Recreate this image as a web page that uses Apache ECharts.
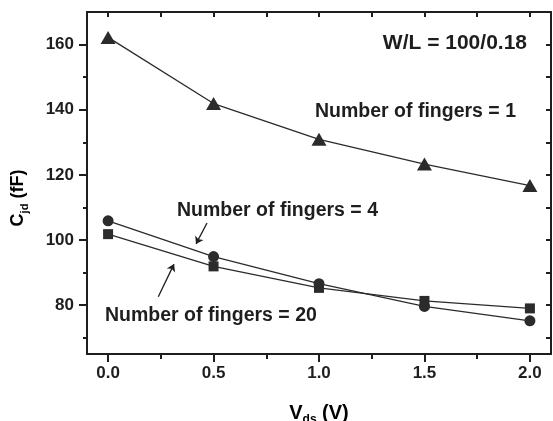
<!DOCTYPE html>
<html>
<head>
<meta charset="utf-8">
<script src="https://cdn.jsdelivr.net/npm/echarts@6/dist/echarts.min.js"></script>
<style>
  html, body { margin: 0; padding: 0; background: #fff; }
  #chart { width: 553px; height: 421px; }
</style>
</head>
<body>
<div id="chart"></div>
<script>
// V_ds sweep points (V)
const vds = [0.0, 0.5, 1.0, 1.5, 2.0];
// C_jd (fF) for each finger count
const fingers1 = [162.2, 141.9, 130.9, 123.3, 116.7];
const fingers4 = [105.9, 94.9, 86.6, 79.6, 75.2];
const fingers20 = [101.8, 91.9, 85.3, 81.3, 79.0];

const xMajor = [0, 0.5, 1.0, 1.5, 2.0];
const xMinor = [0.25, 0.75, 1.25, 1.75];
const xTop = [0, 0.25, 0.5, 0.75, 1.0, 1.25, 1.5, 1.75, 2.0];
const yMajor = [80, 100, 120, 140, 160];
const yMinor = [70, 90, 110, 130, 150];
const yRight = [70, 80, 90, 100, 110, 120, 130, 140, 150, 160];

// arrow annotations, in data coordinates [from, to]
const arrow4 = [[0.469, 105.2], [0.417, 98.8]];
const arrow20 = [[0.238, 82.6], [0.3125, 92.6]];

const FONT = "'Liberation Sans', Arial, sans-serif";
const INK = '#1e1e1e';

const chart = echarts.init(document.getElementById('chart'), null, { renderer: 'canvas' });

function pairs(ys) {
    return vds.map((x, i) => [x, ys[i]]);
}

function xAxisBase(extra) {
    return Object.assign({
        type: 'value', min: -0.1, max: 2.1, gridIndex: 0,
        axisLine: { show: true, onZero: false, lineStyle: { color: INK, width: 2 } },
        splitLine: { show: false },
        axisLabel: { show: false },
    }, extra);
}

function yAxisBase(extra) {
    return Object.assign({
        type: 'value', min: 65, max: 170, gridIndex: 0,
        axisLine: { show: true, onZero: false, lineStyle: { color: INK, width: 2 } },
        splitLine: { show: false },
        axisLabel: { show: false },
    }, extra);
}

const lineSeries = (name, ys, symbol, size, extra) => Object.assign({
    name,
    type: 'line',
    data: pairs(ys),
    symbol,
    symbolSize: size,
    showSymbol: true,
    itemStyle: { color: '#2b2b2b' },
    lineStyle: { color: '#2b2b2b', width: 1.3 },
    emphasis: { disabled: true },
    z: 3,
}, extra);

chart.setOption({
    animation: false,
    backgroundColor: '#fff',
    grid: { left: 87, right: 2, top: 12, bottom: 67 },
    xAxis: [
        xAxisBase({
            position: 'bottom',
            axisTick: { show: true, customValues: xMajor, length: 8, lineStyle: { color: INK, width: 2 } },
            axisLabel: {
                show: true, customValues: xMajor, margin: 11,
                formatter: (v) => v.toFixed(1),
                fontFamily: FONT, fontWeight: 'bold', fontSize: 17, color: INK,
            },
        }),
        xAxisBase({
            position: 'bottom',
            axisTick: { show: true, customValues: xMinor, length: 5, lineStyle: { color: INK, width: 2 } },
        }),
        xAxisBase({
            position: 'top',
            axisTick: { show: true, inside: true, customValues: xTop, length: 5, lineStyle: { color: INK, width: 2 } },
        }),
    ],
    yAxis: [
        yAxisBase({
            position: 'left',
            axisTick: { show: true, customValues: yMajor, length: 8, lineStyle: { color: INK, width: 2 } },
            axisLabel: {
                show: true, customValues: yMajor, margin: 13,
                fontFamily: FONT, fontWeight: 'bold', fontSize: 17, color: INK,
            },
        }),
        yAxisBase({
            position: 'left',
            axisTick: { show: true, customValues: yMinor, length: 4, lineStyle: { color: INK, width: 2 } },
        }),
        yAxisBase({
            position: 'right',
            axisTick: { show: true, inside: true, customValues: yRight, length: 5, lineStyle: { color: INK, width: 2 } },
        }),
    ],
    series: [
        lineSeries('Number of fingers = 1', fingers1, 'triangle', [15, 13]),
        lineSeries('Number of fingers = 20', fingers20, 'rect', 10),
        lineSeries('Number of fingers = 4', fingers4, 'circle', 11, {
            markLine: {
                silent: true,
                symbol: ['none', 'arrow'],
                symbolSize: 7,
                label: { show: false },
                lineStyle: { color: INK, width: 1.3, type: 'solid' },
                emphasis: { disabled: true },
                data: [
                    [{ coord: arrow4[0] }, { coord: arrow4[1] }],
                    [{ coord: arrow20[0] }, { coord: arrow20[1] }],
                ],
            },
        }),
    ],
    graphic: [
        {
            type: 'text', x: 527, y: 43,
            style: {
                text: 'W/L = 100/0.18', fill: INK,
                font: `bold 21px ${FONT}`, textAlign: 'right', textVerticalAlign: 'middle',
            },
        },
        {
            type: 'text', x: 315, y: 112,
            style: {
                text: 'Number of fingers = 1', fill: INK,
                font: `bold 19.5px ${FONT}`, textAlign: 'left', textVerticalAlign: 'middle',
            },
        },
        {
            type: 'text', x: 177, y: 211,
            style: {
                text: 'Number of fingers = 4', fill: INK,
                font: `bold 19.5px ${FONT}`, textAlign: 'left', textVerticalAlign: 'middle',
            },
        },
        {
            type: 'text', x: 105, y: 316,
            style: {
                text: 'Number of fingers = 20', fill: INK,
                font: `bold 19.5px ${FONT}`, textAlign: 'left', textVerticalAlign: 'middle',
            },
        },
        {
            // y axis title, rotated
            type: 'text', x: 18, y: 198, rotation: Math.PI / 2,
            style: {
                text: '{m|C}{s|jd}{m| (fF)}',
                textAlign: 'center', textVerticalAlign: 'middle',
                rich: {
                    m: { fontFamily: FONT, fontWeight: 'bold', fontSize: 18, lineHeight: 24, color: INK },
                    s: { fontFamily: FONT, fontWeight: 'bold', fontSize: 11, lineHeight: 10, verticalAlign: 'bottom', color: INK },
                },
            },
        },
        {
            // x axis title
            type: 'text', x: 319, y: 413,
            style: {
                text: '{m|V}{s|ds}{m| (V)}',
                textAlign: 'center', textVerticalAlign: 'middle',
                rich: {
                    m: { fontFamily: FONT, fontWeight: 'bold', fontSize: 20, lineHeight: 26, color: INK },
                    s: { fontFamily: FONT, fontWeight: 'bold', fontSize: 12, lineHeight: 10, verticalAlign: 'bottom', color: INK },
                },
            },
        },
    ],
});
</script>
</body>
</html>
